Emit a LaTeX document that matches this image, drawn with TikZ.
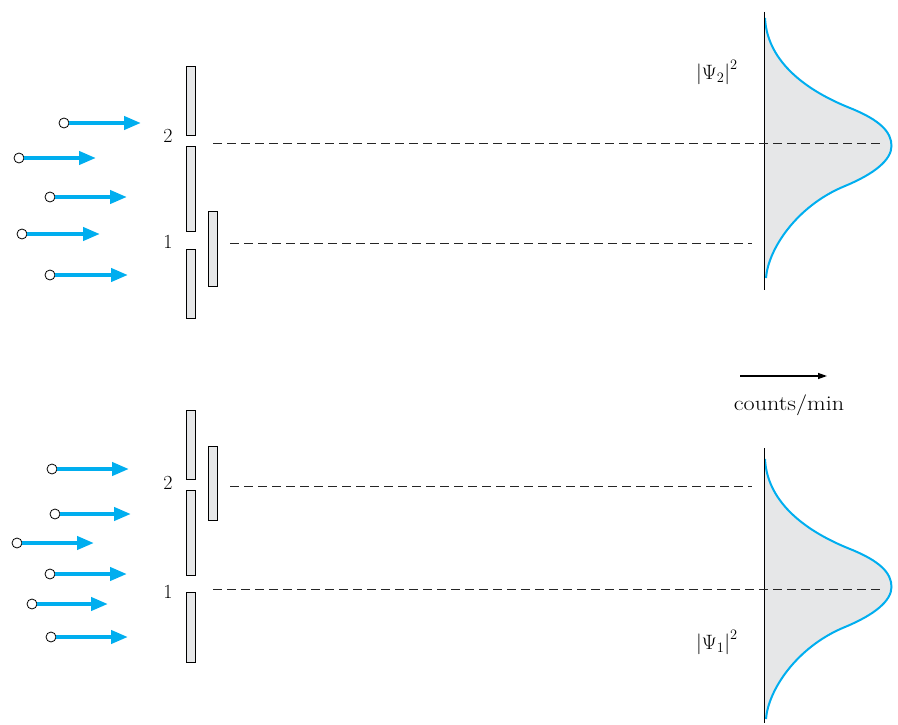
\documentclass[tikz,border=0pt]{standalone}
\usetikzlibrary{arrows.meta}
\definecolor{beam}{HTML}{00AEEF}
\definecolor{plate}{HTML}{E6E7E8}
\begin{document}
\begin{tikzpicture}[x=1pt,y=-1pt,
  wall/.style={draw=black,line width=0.8pt,fill=plate},
  src/.style={circle,draw=black,line width=0.8pt,fill=white,inner sep=0pt,minimum size=10pt},
  ray/.style={beam,line width=4pt,-{Triangle[length=17pt,width=13pt]}},
  guide/.style={dashed,dash pattern=on 9pt off 5pt,line width=0.8pt,black!85},
  curve/.style={beam,line width=2pt},
  lbl/.style={font=\fontsize{20}{24}\selectfont,inner sep=0pt},
  axisline/.style={line width=0.8pt,black}]
\useasboundingbox (0,0) rectangle (898,725);
\def\prof{(765,18) .. controls (767,58) and (800,88) .. (850,108) .. controls (880,120) and (891.5,132) .. (891.5,146) .. controls (891.5,160) and (874,174) .. (845,186) .. controls (796,206) and (768,250) .. (766,278)}

% ---------- top panel ----------
\draw[wall] (186,66) rectangle (195,135);
\draw[wall] (186,146) rectangle (195,231);
\draw[wall] (186,249) rectangle (195,318);
\draw[wall] (208,211) rectangle (217,286);
\node[lbl] (t2) at (168,136) {2};
\node[lbl] (t1) at (168,242) {1};

\fill[plate] \prof -- (765,278) -- cycle;
\draw[curve] \prof;
\draw[axisline] (764,12) -- (764,290);
\node[lbl,anchor=west] (psi2) at (696,72) {$\left|\Psi_2\right|^2$};

\coordinate (ta) at (213,143); \coordinate (tb) at (882,143);
\coordinate (tc) at (230,243); \coordinate (td) at (752,243);
\draw[guide] (ta) -- (tb);
\draw[guide] (tc) -- (td);

\node[src] (s1) at (64,123) {}; \coordinate (e1) at (141,123);
\node[src] (s2) at (19,158) {}; \coordinate (e2) at (96,158);
\node[src] (s3) at (50,197) {}; \coordinate (e3) at (127,197);
\node[src] (s4) at (22,234) {}; \coordinate (e4) at (100,234);
\node[src] (s5) at (50,275) {}; \coordinate (e5) at (128,275);
\foreach \i in {1,...,5} \draw[ray] (s\i.east) -- (e\i);

% ---------- counts/min ----------
\coordinate (ca) at (740,376); \coordinate (cb) at (827,376);
\draw[line width=1.3pt,-{Triangle[length=9pt,width=6pt]}] (ca) -- (cb);
\node[lbl,font=\fontsize{21}{24}\selectfont,xscale=1.15] (cm) at (789,405) {counts/min};

% ---------- bottom panel ----------
\draw[wall] (186,410) rectangle (195,479);
\draw[wall] (186,490) rectangle (195,575);
\draw[wall] (186,592) rectangle (195,662);
\draw[wall] (208,446) rectangle (217,520);
\node[lbl] (b2) at (168,483) {2};
\node[lbl] (b1) at (168,592) {1};

\begin{scope}[shift={(0,441)}]
\fill[plate] \prof -- (765,278) -- cycle;
\draw[curve] \prof;
\end{scope}
\draw[axisline] (764,448) -- (764,723);
\node[lbl,anchor=west] (psi1) at (696,642) {$\left|\Psi_1\right|^2$};

\coordinate (ba) at (230,486); \coordinate (bb) at (752,486);
\coordinate (bc) at (213,589); \coordinate (bd) at (882,589);
\draw[guide] (ba) -- (bb);
\draw[guide] (bc) -- (bd);

\node[src] (r1) at (52,469) {}; \coordinate (f1) at (129,469);
\node[src] (r2) at (55,514) {}; \coordinate (f2) at (131,514);
\node[src] (r3) at (17,543) {}; \coordinate (f3) at (94,543);
\node[src] (r4) at (50,574) {}; \coordinate (f4) at (127,574);
\node[src] (r5) at (32,604) {}; \coordinate (f5) at (108,604);
\node[src] (r6) at (51,637) {}; \coordinate (f6) at (128,637);
\foreach \i in {1,...,6} \draw[ray] (r\i.east) -- (f\i);
\end{tikzpicture}
\end{document}
